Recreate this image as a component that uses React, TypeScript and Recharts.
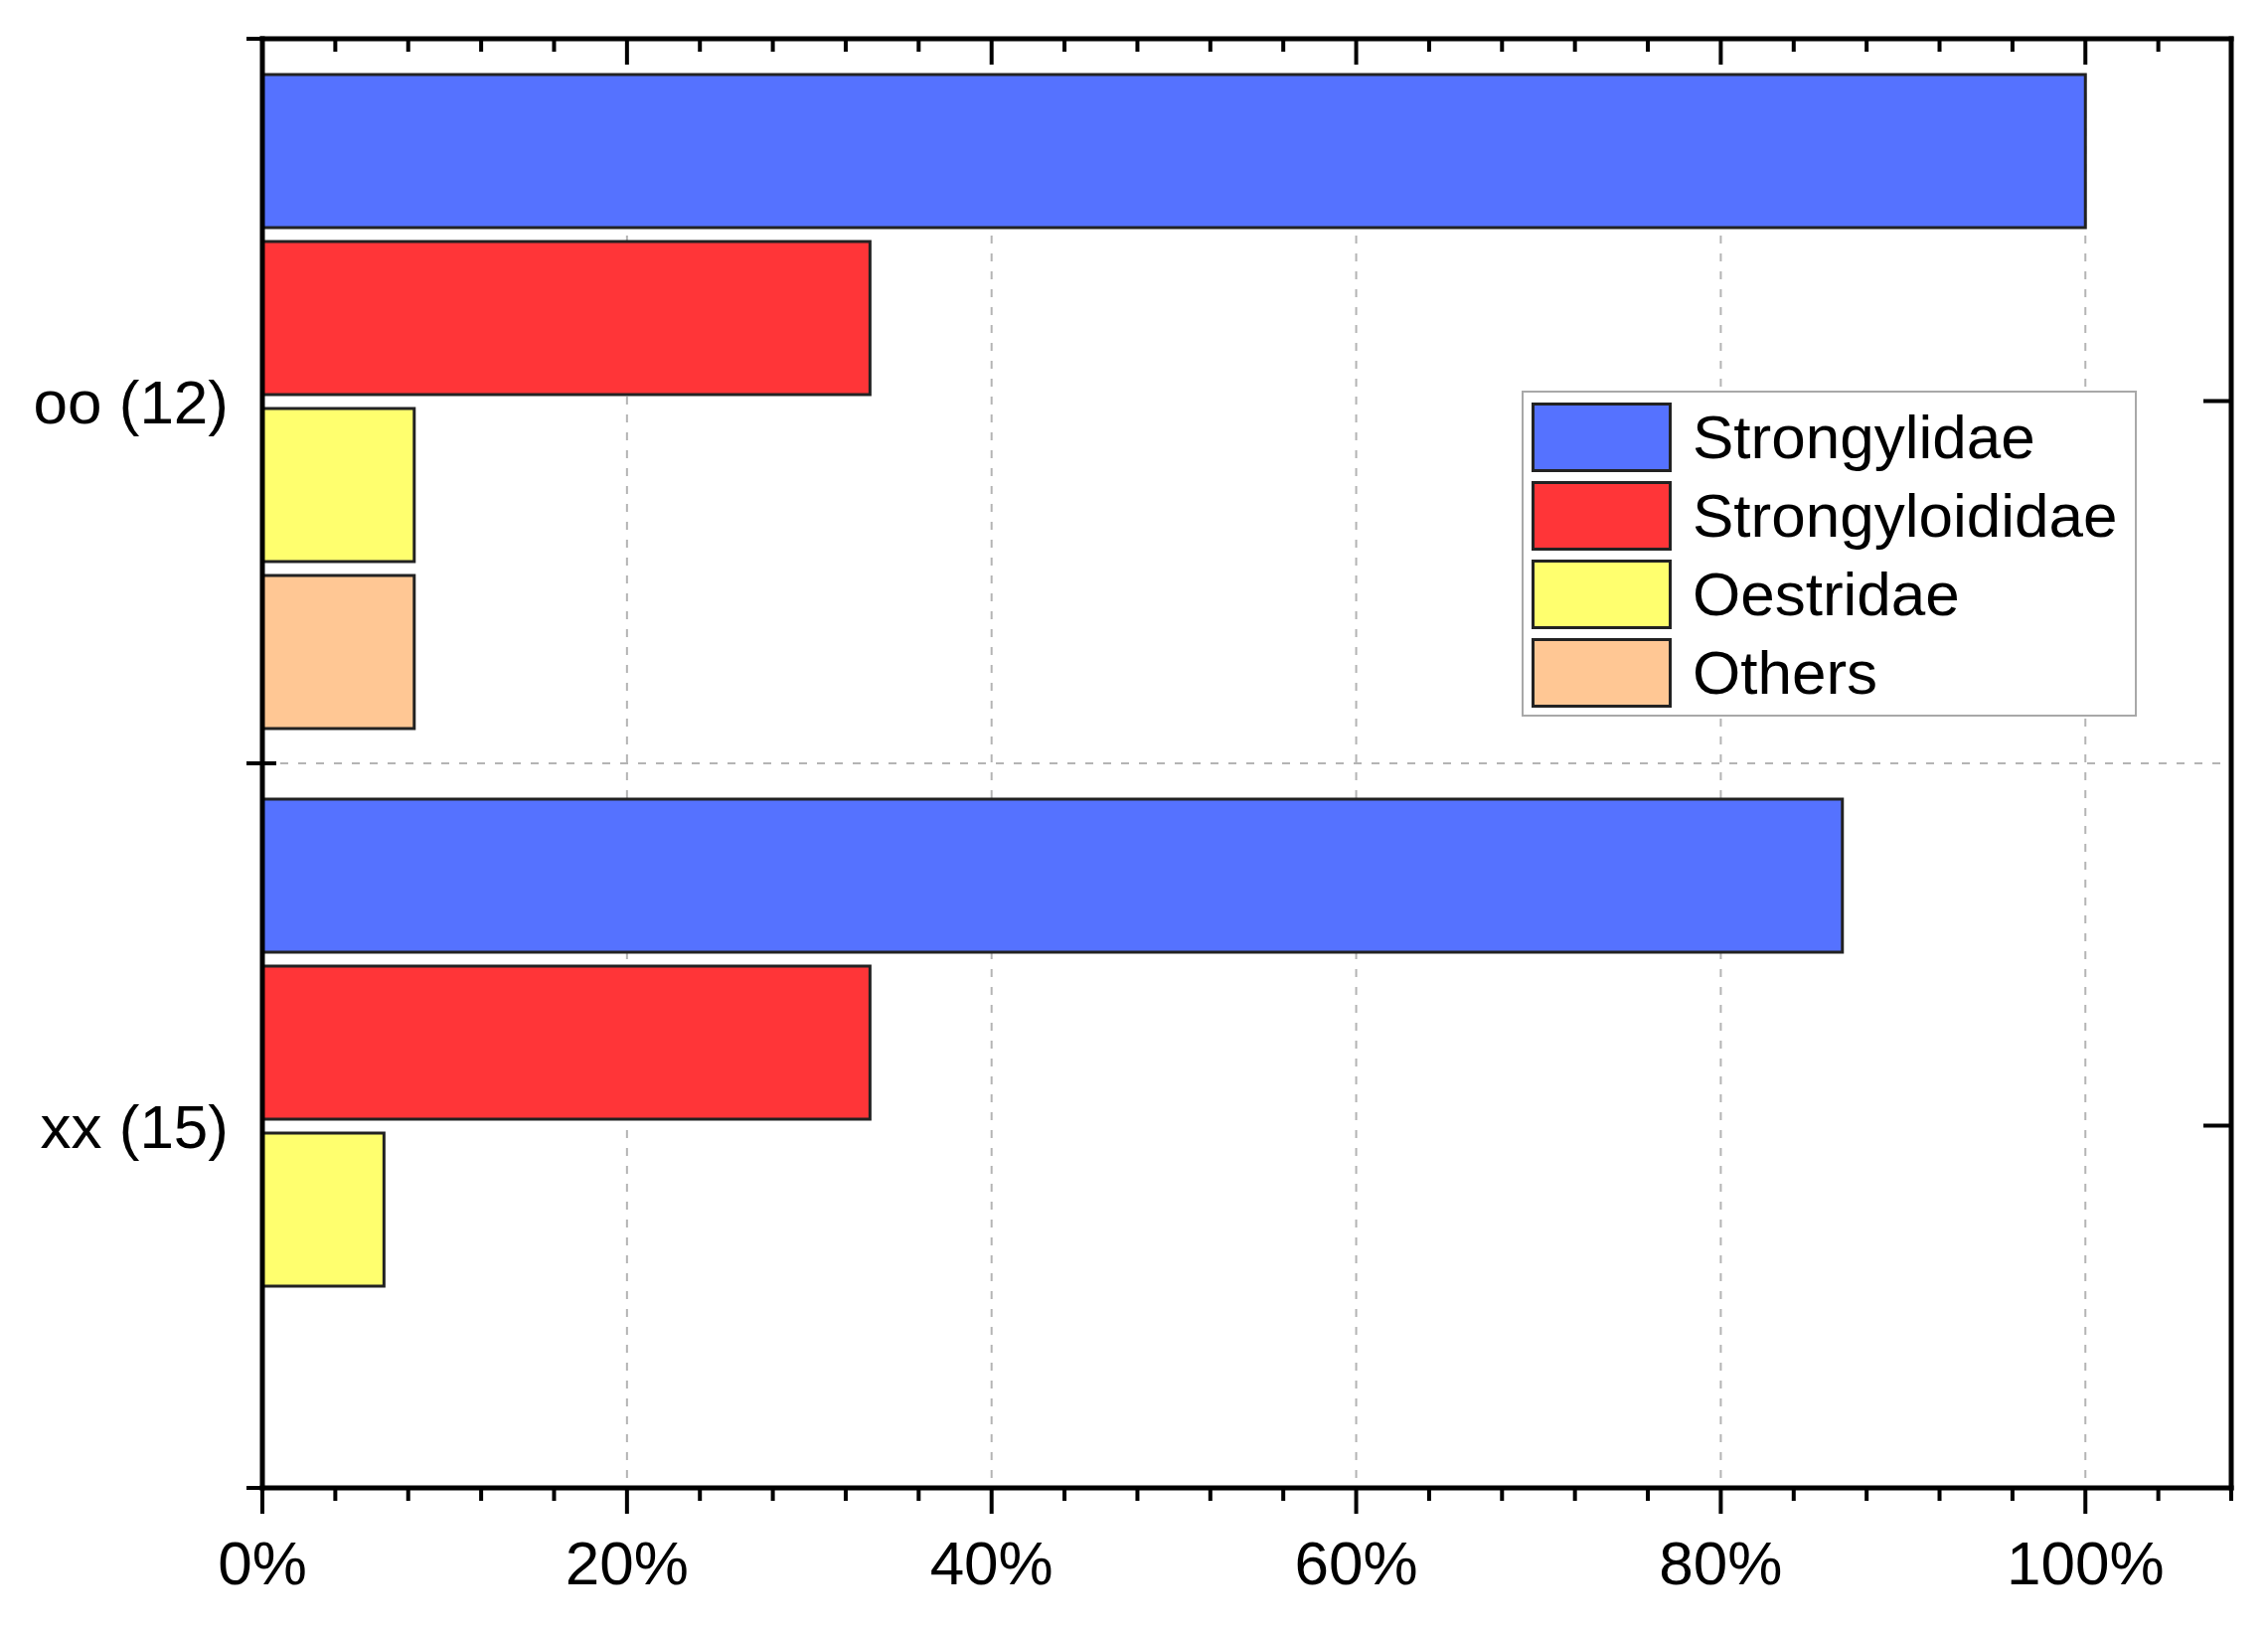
import React from "react";
import {
  BarChart,
  Bar,
  XAxis,
  YAxis,
  CartesianGrid,
  Legend,
} from "recharts";

// 데이터
const categories = ["oo (12)", "xx (15)"];
const seriesNames = ["Strongylidae", "Strongyloididae", "Oestridae", "Others"];
const strongylidae = [100, 86.67];
const strongyloididae = [33.33, 33.33];
const oestridae = [8.33, 6.67];
const others = [8.33, 0];

const xTicks = [0, 4, 8, 12, 16, 20, 24, 28, 32, 36, 40, 44, 48, 52, 56, 60, 64, 68, 72, 76, 80, 84, 88, 92, 96, 100, 104, 108];
const majorTicks = [0, 20, 40, 60, 80, 100];

const data = categories.map((name, i) => ({
  name,
  strongylidae: strongylidae[i],
  strongyloididae: strongyloididae[i],
  oestridae: oestridae[i],
  others: others[i],
}));

const FONT = "'Liberation Sans', Arial, sans-serif";
const AXIS = { stroke: "#000", strokeWidth: 5, strokeLinecap: "square" as const };
const BAR_STROKE = "#222";

const isMajor = (v: number) => v % 20 === 0 && v <= 100;

// 아래쪽 눈금 + 라벨
const BottomTick = (props: any) => {
  const { x, y, payload } = props;
  const major = isMajor(payload.value);
  return (
    <g>
      <line x1={x} x2={x} y1={y} y2={y + (major ? 26 : 13)} stroke="#000" strokeWidth={4} />
      {major && (
        <text x={x} y={y + 53} dy="0.71em" textAnchor="middle" fontSize={62} fill="#000" fontFamily={FONT}>
          {payload.value}%
        </text>
      )}
    </g>
  );
};

// 위쪽 눈금 (안쪽)
const TopTick = (props: any) => {
  const { x, y, payload } = props;
  const major = isMajor(payload.value);
  return <line x1={x} x2={x} y1={y} y2={y + (major ? 26 : 13)} stroke="#000" strokeWidth={4} />;
};

// 왼쪽: 카테고리 라벨 + 경계 눈금 (교차)
const LeftTick = (props: any) => {
  const { x, y, payload } = props;
  const half = payload.offset || 0;
  return (
    <g>
      <line x1={x - 16} x2={x + 14} y1={y - half} y2={y - half} stroke="#000" strokeWidth={4} />
      <line x1={x - 16} x2={x + 14} y1={y + half} y2={y + half} stroke="#000" strokeWidth={4} />
      <text x={x - 34} y={y} dy="0.355em" textAnchor="end" fontSize={62} fill="#000" fontFamily={FONT}>
        {payload.value}
      </text>
    </g>
  );
};

// 오른쪽 중심 눈금 (안쪽)
const RightTick = (props: any) => {
  const { x, y } = props;
  return <line x1={x - 28} x2={x} y1={y} y2={y} stroke="#000" strokeWidth={4} />;
};

const renderLegend = (props: any) => {
  const payload = [...(props.payload || [])].sort(
    (a: any, b: any) => seriesNames.indexOf(a.value) - seriesNames.indexOf(b.value)
  );
  return (
    <div
      style={{
        border: "2px solid #a8a8a8",
        background: "#fff",
        padding: "5px 0 3px 8px",
        width: 607,
        fontFamily: FONT,
      }}
    >
      {payload.map((item: any) => (
        <div key={item.value} style={{ display: "flex", alignItems: "center", height: 79 }}>
          <span
            style={{
              display: "inline-block",
              width: 141,
              height: 70,
              background: item.color,
              border: `3px solid ${BAR_STROKE}`,
              boxSizing: "border-box",
            }}
          />
          <span style={{ marginLeft: 21, fontSize: 62, lineHeight: "79px", color: "#000" }}>{item.value}</span>
        </div>
      ))}
    </div>
  );
};

// 카테고리 경계의 가로 점선
const midLine = ({ offset }: any) => [offset.top + offset.height / 2];

export default function App() {
  return (
    <div style={{ position: "absolute", left: 0, top: 0, width: 2282, height: 1646, background: "#fff" }}>
      <BarChart
        width={2282}
        height={1646}
        data={data}
        layout="vertical"
        margin={{ top: 0, right: 0, bottom: 0, left: 0 }}
        barCategoryGap={36}
        barGap={14}
        style={{ fontFamily: FONT }}
      >
        <CartesianGrid
          xAxisId="major"
          stroke="#b4b4b4"
          strokeWidth={2}
          strokeDasharray="8 10"
          horizontalCoordinatesGenerator={midLine}
        />
        <XAxis
          type="number"
          domain={[0, 108]}
          allowDataOverflow
          ticks={xTicks}
          interval={0}
          height={149}
          tickSize={0}
          tickMargin={0}
          tickLine={false}
          axisLine={AXIS}
          tick={BottomTick}
        />
        <XAxis
          xAxisId="top"
          orientation="top"
          type="number"
          domain={[0, 108]}
          allowDataOverflow
          ticks={xTicks}
          interval={0}
          height={39}
          tickSize={0}
          tickMargin={0}
          tickLine={false}
          axisLine={AXIS}
          tick={TopTick}
        />
        <XAxis xAxisId="major" type="number" domain={[0, 108]} allowDataOverflow ticks={majorTicks} hide />
        <YAxis
          type="category"
          dataKey="name"
          width={264}
          interval={0}
          tickSize={0}
          tickMargin={0}
          tickLine={false}
          axisLine={AXIS}
          tick={LeftTick}
        />
        <YAxis
          yAxisId="right"
          orientation="right"
          type="category"
          dataKey="name"
          interval={0}
          width={37}
          tickSize={0}
          tickMargin={0}
          tickLine={false}
          axisLine={AXIS}
          tick={RightTick}
        />
        <Legend
          layout="vertical"
          align="center"
          verticalAlign="middle"
          content={renderLegend}
          wrapperStyle={{ left: 1531, top: 393, width: "auto", height: "auto" }}
        />
        <Bar dataKey="strongylidae" name="Strongylidae" fill="#5572FF" stroke={BAR_STROKE} strokeWidth={3} isAnimationActive={false} />
        <Bar dataKey="strongyloididae" name="Strongyloididae" fill="#FF3538" stroke={BAR_STROKE} strokeWidth={3} isAnimationActive={false} />
        <Bar dataKey="oestridae" name="Oestridae" fill="#FFFF6E" stroke={BAR_STROKE} strokeWidth={3} isAnimationActive={false} />
        <Bar dataKey="others" name="Others" fill="#FFC794" stroke={BAR_STROKE} strokeWidth={3} isAnimationActive={false} />
      </BarChart>
    </div>
  );
}
